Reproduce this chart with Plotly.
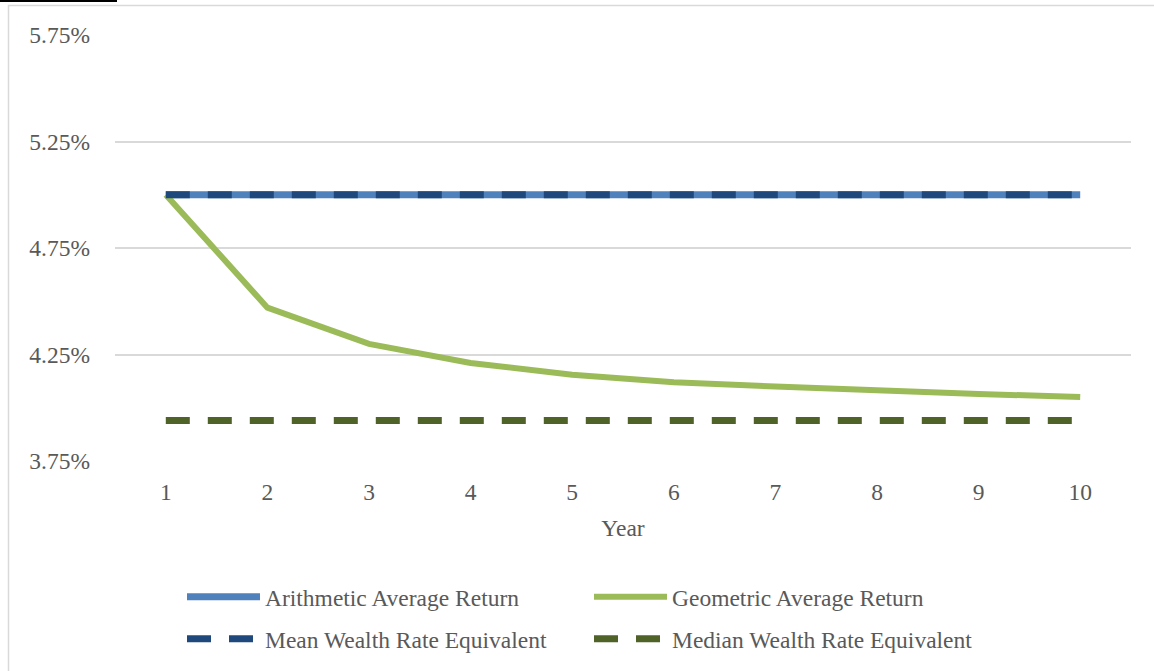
import plotly.graph_objects as go

years = [1, 2, 3, 4, 5, 6, 7, 8, 9, 10]
arithmetic = [0.05] * 10
geometric = [0.0500, 0.0447, 0.0430, 0.0421, 0.04155, 0.0412, 0.0410, 0.0408, 0.04065, 0.0405]
mean_wealth = [0.05] * 10
median_wealth = [0.0394] * 10
y_ticks = [0.0375, 0.0425, 0.0475, 0.0525, 0.0575]

FONT = "Liberation Serif"
FS = 23.5
TXT = "#595959"

fig = go.Figure()
fig.add_trace(go.Scatter(x=years, y=arithmetic, mode="lines", name="Arithmetic Average Return",
                         line=dict(color="#4F81BD", width=7), legend="legend"))
fig.add_trace(go.Scatter(x=years, y=geometric, mode="lines", name="Geometric Average Return",
                         line=dict(color="#9BBB59", width=6), legend="legend"))
fig.add_trace(go.Scatter(x=years, y=mean_wealth, mode="lines", name="Mean Wealth Rate Equivalent",
                         line=dict(color="#1F497D", width=7, dash="24px,18px"), legend="legend2"))
fig.add_trace(go.Scatter(x=years, y=median_wealth, mode="lines", name="Median Wealth Rate Equivalent",
                         line=dict(color="#4F6228", width=7, dash="24px,18px"), legend="legend2"))

W, H = 1154, 671
L, R, T, B = 115, 23, 35, 210
pw, ph = W - L - R, H - T - B

def px(xpix):
    return (xpix - L) / pw

def py(ypix):
    return (H - B - ypix) / ph

legend_common = dict(orientation="h", xanchor="left", yanchor="middle",
                     font=dict(family=FONT, size=FS, color=TXT),
                     entrywidth=319, entrywidthmode="pixels", itemwidth=73,
                     bgcolor="rgba(0,0,0,0)", borderwidth=0)

fig.update_layout(
    width=W, height=H,
    margin=dict(l=L, r=R, t=T, b=B, pad=0, autoexpand=False),
    paper_bgcolor="white", plot_bgcolor="white",
    font=dict(family=FONT, size=FS, color=TXT),
    showlegend=True,
    legend=dict(x=px(182), y=py(597), **legend_common),
    legend2=dict(x=px(182), y=py(639), **legend_common),
    xaxis=dict(
        range=[0.5, 10.5], tickvals=years, ticktext=[str(v) for v in years],
        showgrid=False, zeroline=False, showline=False, ticks="",
        ticklabelstandoff=14,
        tickfont=dict(family=FONT, size=FS, color=TXT),
        title=dict(text="Year", font=dict(family=FONT, size=FS, color=TXT), standoff=16),
    ),
    yaxis=dict(
        range=[0.0375, 0.0575], tickvals=y_ticks, tickformat=".2%",
        showgrid=True, gridcolor="#D9D9D9", gridwidth=1.5, zeroline=False, showline=False,
        ticks="", ticklabelstandoff=24,
        tickfont=dict(family=FONT, size=FS, color=TXT),
    ),
    shapes=[
        dict(type="rect", xref="paper", yref="paper",
             x0=px(8.5), x1=px(1170), y0=py(690), y1=py(5.5),
             line=dict(color="#D9D9D9", width=1.5), fillcolor="rgba(0,0,0,0)", layer="below"),
        dict(type="line", xref="paper", yref="paper",
             x0=px(0), x1=px(117), y0=py(1), y1=py(1),
             line=dict(color="black", width=2)),
    ],
)

fig.write_html(
    "out.html",
    config={"displayModeBar": False},
    post_script="document.body.style.margin='0';document.body.style.overflow='hidden';",
)
